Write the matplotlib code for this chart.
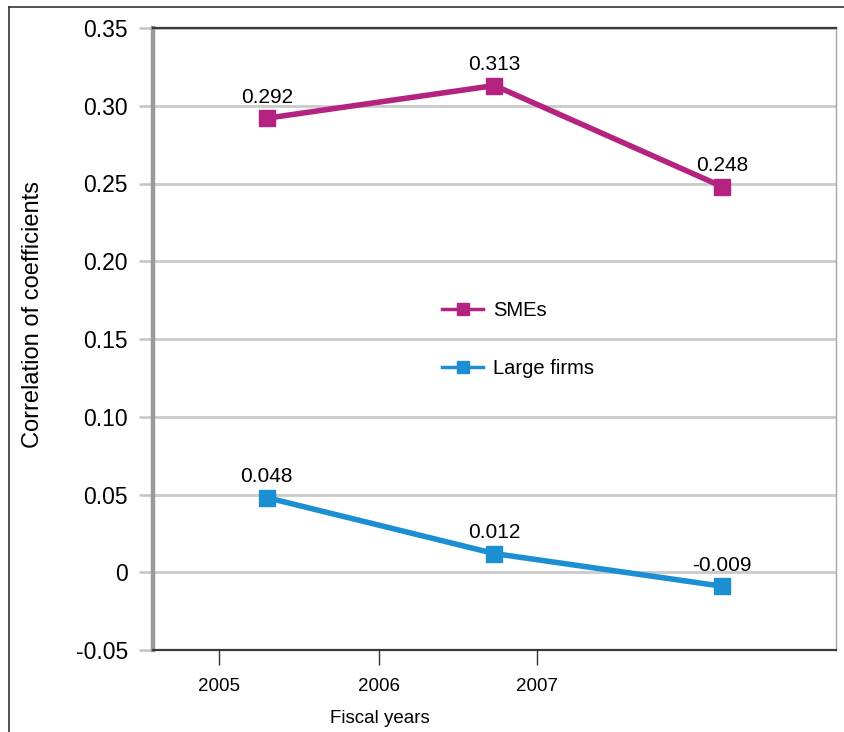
import matplotlib.pyplot as plt
from matplotlib.lines import Line2D

plt.rcParams['font.family'] = ['Liberation Sans', 'DejaVu Sans']

# Correlation coefficients by fiscal year
years = ['2005', '2006', '2007']
smes = [0.292, 0.313, 0.248]
large_firms = [0.048, 0.012, -0.009]
y_ticks = [-0.05, 0, 0.05, 0.10, 0.15, 0.20, 0.25, 0.30, 0.35]
y_tick_labels = ['-0.05', '0', '0.05', '0.10', '0.15', '0.20', '0.25', '0.30', '0.35']

sme_color = '#B4237F'
large_color = '#1C8FD3'

fig = plt.figure(figsize=(8.45, 7.32), dpi=100)
ax = fig.add_axes([153 / 845, 1 - 650 / 732, 683 / 845, 622 / 732])

x = list(range(len(years)))
ax.plot(x, smes, color=sme_color, lw=4, marker='s', ms=11.5,
        solid_joinstyle='miter', zorder=3)
ax.plot(x, large_firms, color=large_color, lw=4, marker='s', ms=11.5,
        solid_joinstyle='miter', zorder=3)

for xi, v in zip(x, smes):
    ax.annotate(f'{v:.3f}', (xi, v), xytext=(0, 8), textcoords='offset points',
                ha='center', va='bottom', fontsize=15)
for xi, v in zip(x, large_firms):
    ax.annotate(f'{v:.3f}', (xi, v), xytext=(0, 8), textcoords='offset points',
                ha='center', va='bottom', fontsize=15)

ax.set_xlim(-0.5, 2.5)
ax.set_ylim(-0.05, 0.35)

# year ticks sit off the point centres, spaced tighter than the points
ax.set_xticks([-0.21, 0.493, 1.187])
ax.set_xticklabels(years, fontsize=13.5)
ax.tick_params(axis='x', length=11, width=1, color='#333333', pad=9)
ax.set_yticks(y_ticks)
ax.set_yticklabels(y_tick_labels, fontsize=16.5)
ax.tick_params(axis='y', length=10, width=1.8, color='#c4c4c4', pad=8)

ax.grid(axis='y', color='#cacaca', lw=2)
ax.set_axisbelow(True)

ax.spines['left'].set_color('#9a9a9a')
ax.spines['left'].set_linewidth(3.2)
ax.spines['top'].set_color('#3a3a3a')
ax.spines['top'].set_linewidth(1.6)
ax.spines['bottom'].set_color('#3a3a3a')
ax.spines['bottom'].set_linewidth(1.6)
ax.spines['right'].set_color('#a8a8a8')
ax.spines['right'].set_linewidth(1)

ax.set_xlabel('Fiscal years', fontsize=13.5)
ax.xaxis.set_label_coords((380 - 153) / 683, -0.097)
ax.set_ylabel('Correlation of coefficients', fontsize=17)
ax.yaxis.set_label_coords(-0.16, 0.54)

handles = [
    Line2D([], [], color=sme_color, lw=2.5, marker='s', ms=9),
    Line2D([], [], color=large_color, lw=2.5, marker='s', ms=9),
]
ax.legend(handles, ['SMEs', 'Large firms'], loc='center left',
          bbox_to_anchor=(0.423, 0.499), frameon=False, fontsize=14.5,
          handlelength=2.05, handletextpad=0.5, labelspacing=1.9,
          borderpad=0, borderaxespad=0)

# outer frame: top and left edges
fig.add_artist(Line2D([9 / 845, 9 / 845], [0, 1 - 7 / 732], color='#333333', lw=1.2))
fig.add_artist(Line2D([9 / 845, 1], [1 - 7 / 732, 1 - 7 / 732], color='#333333', lw=1.2))

fig.savefig('out.png', dpi=100)
